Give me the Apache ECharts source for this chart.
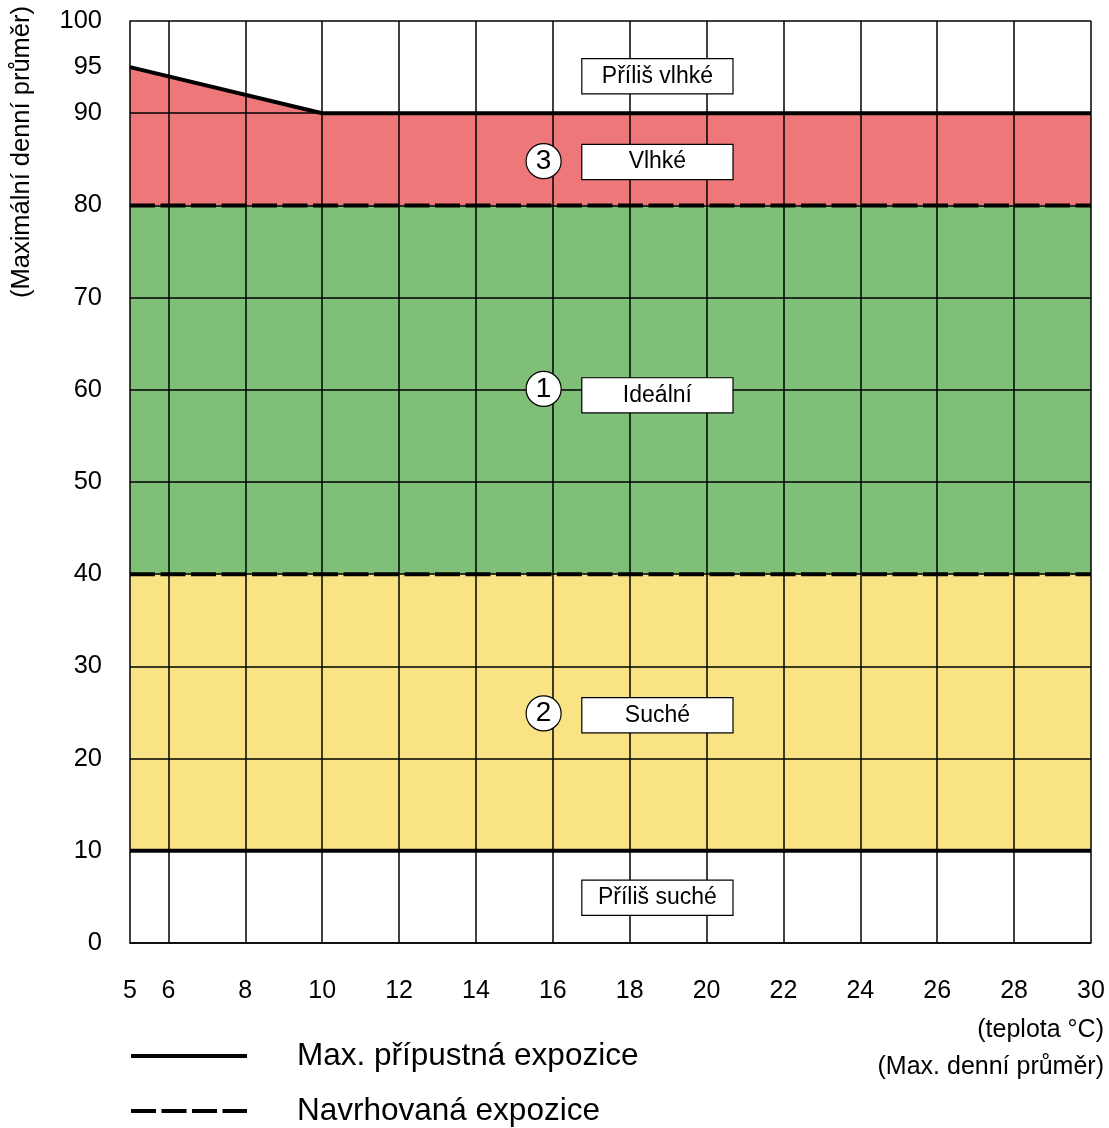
<!DOCTYPE html>
<html>
<head>
<meta charset="utf-8">
<script src="https://cdn.jsdelivr.net/npm/echarts@6/dist/echarts.min.js"></script>
<style>html,body{margin:0;padding:0;background:#fff}#c{width:1109px;height:1128px}</style>
</head>
<body>
<div id="c"></div>
<script>
// ---- data ----
const xTickLabels = [5, 6, 8, 10, 12, 14, 16, 18, 20, 22, 24, 26, 28, 30];
const xGridLines = [6, 8, 10, 12, 14, 16, 18, 20, 22, 24, 26, 28, 30];
const yTickLabels = [0, 10, 20, 30, 40, 50, 60, 70, 80, 90, 95, 100];
const maxExposureUpper = [[5, 95], [10, 90], [30, 90]];
const maxExposureLower = [[5, 10], [30, 10]];
const proposedUpper = [[5, 80], [30, 80]];
const proposedLower = [[5, 40], [30, 40]];
const zoneNumbers = [[15.76, 84.8, '3'], [15.76, 60.1, '1'], [15.76, 24.9, '2']];
const zoneLabels = [
  [18.72, 94.0, 'Příliš vlhké'],
  [18.72, 84.7, 'Vlhké'],
  [18.72, 59.4, 'Ideální'],
  [18.72, 24.7, 'Suché'],
  [18.72, 4.9, 'Příliš suché']
];
const legendNames = ['Max. přípustná expozice', 'Navrhovaná expozice'];
const yAxisTitle = '(Maximální denní průměr)';
const xAxisTitle = ['(teplota °C)', '(Max. denní průměr)'];

const FONT = '"Liberation Sans", Arial, Helvetica, sans-serif';
const RED = '#EE777A', GREEN = '#80BF78', YELLOW = '#FAE385';
const DASH = [25, 5.5];

function area(data, color) {
  return {
    type: 'line', data: data, symbol: 'none', z: 1, silent: true,
    lineStyle: { width: 0 }, areaStyle: { color: color, opacity: 1 }
  };
}
function line(data, type) {
  return {
    type: 'line', data: data, symbol: 'none', z: 5, silent: true,
    lineStyle: { color: '#000', width: 4, type: type, cap: 'butt' }
  };
}

const chart = echarts.init(document.getElementById('c'), null, { renderer: 'canvas' });
chart.setOption({
  animation: false,
  textStyle: { fontFamily: FONT },
  grid: { left: 130, right: 18, top: 21, bottom: 185 },
  xAxis: {
    type: 'value', min: 5, max: 30, interval: 1, z: 3,
    axisLine: { show: true, lineStyle: { color: '#000', width: 1.5 } },
    axisTick: { show: false },
    splitLine: { show: false },
    axisLabel: { customValues: xTickLabels, color: '#000', fontSize: 25, margin: 36, fontFamily: FONT }
  },
  yAxis: {
    type: 'value', min: 0, max: 100, interval: 10, z: 3,
    axisLine: { show: true, lineStyle: { color: '#000', width: 1.5 } },
    axisTick: { show: false },
    splitLine: { show: true, lineStyle: { color: '#000', width: 1.5 } },
    axisLabel: { customValues: yTickLabels, color: '#000', fontSize: 25.5, margin: 28, fontFamily: FONT }
  },
  series: [
    area(maxExposureUpper, RED),
    area(proposedUpper, GREEN),
    area(proposedLower, YELLOW),
    area(maxExposureLower, '#fff'),
    {
      type: 'line', data: [], z: 3, silent: true,
      markLine: {
        silent: true, symbol: 'none', label: { show: false },
        lineStyle: { color: '#000', width: 1.5, type: 'solid' },
        data: xGridLines.map(v => ({ xAxis: v }))
      }
    },
    line(maxExposureUpper, 'solid'),
    line(maxExposureLower, 'solid'),
    line(proposedUpper, DASH),
    line(proposedLower, DASH),
    {
      type: 'scatter', z: 6, silent: true,
      data: zoneNumbers, symbol: 'circle', symbolSize: 35,
      itemStyle: { color: '#fff', borderColor: '#000', borderWidth: 1.2, opacity: 1 },
      label: { show: true, position: 'inside', formatter: p => p.value[2], color: '#000', fontSize: 28, fontFamily: FONT }
    },
    {
      type: 'scatter', z: 6, silent: true,
      data: zoneLabels, symbolSize: 1,
      itemStyle: { color: '#fff', opacity: 1 },
      label: {
        show: true, position: 'inside', formatter: p => p.value[2],
        color: '#000', fontSize: 23, fontFamily: FONT,
        backgroundColor: '#fff', borderColor: '#000', borderWidth: 1.2,
        width: 150, height: 34, lineHeight: 34, align: 'center', padding: 0
      }
    }
  ],
  graphic: [
    { type: 'text', x: 22, y: 152, rotation: Math.PI / 2, style: { text: yAxisTitle, font: '25.5px ' + FONT, fill: '#000', align: 'center', verticalAlign: 'middle' } },
    { type: 'text', x: 1104, y: 1030, style: { text: xAxisTitle[0], font: '25px ' + FONT, fill: '#000', align: 'right', verticalAlign: 'middle' } },
    { type: 'text', x: 1104, y: 1067, style: { text: xAxisTitle[1], font: '25px ' + FONT, fill: '#000', align: 'right', verticalAlign: 'middle' } },
    { type: 'line', shape: { x1: 131, y1: 1056, x2: 247, y2: 1056 }, style: { stroke: '#000', lineWidth: 4 } },
    { type: 'line', shape: { x1: 131, y1: 1111, x2: 247, y2: 1111 }, style: { stroke: '#000', lineWidth: 4, lineDash: DASH } },
    { type: 'text', x: 297, y: 1056, style: { text: legendNames[0], font: '31.5px ' + FONT, fill: '#000', align: 'left', verticalAlign: 'middle' } },
    { type: 'text', x: 297, y: 1111, style: { text: legendNames[1], font: '31.5px ' + FONT, fill: '#000', align: 'left', verticalAlign: 'middle' } }
  ]
});
</script>
</body>
</html>
